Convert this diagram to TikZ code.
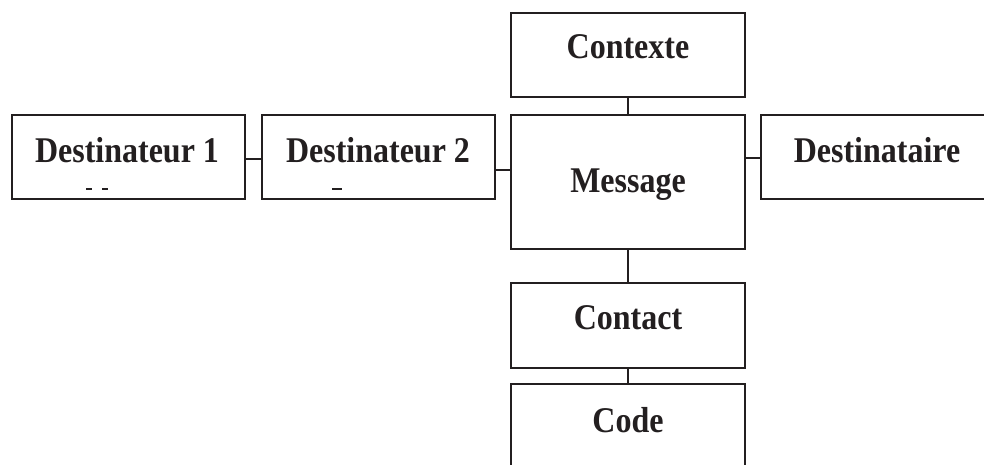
\documentclass[tikz,border=0pt]{standalone}
\usepackage{fontspec}
\usepackage{graphicx}
\setmainfont{Liberation Serif}
\definecolor{ink}{HTML}{231F20}
\newcommand{\tallt}[1]{\scalebox{1}[1.13]{#1}}
\begin{document}
\begin{tikzpicture}[x=1pt,y=-1pt,
  box/.style={draw=ink,line width=2.5pt,rectangle,inner sep=0pt},
  lbl/.style={inner sep=0pt,font=\fontsize{32}{36}\selectfont\bfseries,text=ink},
  hcon/.style={draw=ink,line width=1.4pt},
  vcon/.style={draw=ink,line width=2.2pt},
  tick/.style={draw=ink,line width=1.3pt}]
\useasboundingbox (0,0) rectangle (984,464);
\clip (0,0) rectangle (984,464);
% boxes
\node[box,minimum width=234pt,minimum height=84pt] (ctx) at (628,55) {};
\node[box,minimum width=234pt,minimum height=134pt] (msg) at (628,182) {};
\node[box,minimum width=233pt,minimum height=84pt] (d1) at (128.5,157) {};
\node[box,minimum width=233pt,minimum height=84pt] (d2) at (378.5,157) {};
\node[box,minimum width=240pt,minimum height=84pt] (dest) at (881,157) {};
\node[box,minimum width=234pt,minimum height=85pt] (cont) at (628,325.5) {};
\node[box,minimum width=234pt,minimum height=100pt] (code) at (628,434) {};
% labels
\node[lbl] (tctx) at (628,47) {\tallt{Contexte}};
\node[lbl] (tmsg) at (628,185) {\tallt{Message}};
\node[lbl] (td1) at (127,150) {\tallt{Destinateur 1}};
\node[lbl] (td2) at (378,150) {\tallt{Destinateur 2}};
\node[lbl] (tdest) at (877,150) {\tallt{Destinataire}};
\node[lbl] (tcont) at (628,318) {\tallt{Contact}};
\node[lbl] (tcode) at (628,420) {\tallt{Code}};
% connectors
\draw[vcon] (ctx.south) -- (msg.north);
\draw[vcon] (msg.south) -- (cont.north);
\draw[vcon] (cont.south) -- (code.north);
\draw[hcon] (d1.east |- 0,159) -- (d2.west |- 0,159);
\draw[hcon] (d2.east |- 0,170) -- (msg.west |- 0,170);
\draw[hcon] (msg.east |- 0,158) -- (dest.west |- 0,158);
% small marks
\draw[tick] (86,189) -- (92,189);
\draw[tick] (102,189) -- (108,189);
\draw[tick] (332,189) -- (342,189);
\end{tikzpicture}
\end{document}
